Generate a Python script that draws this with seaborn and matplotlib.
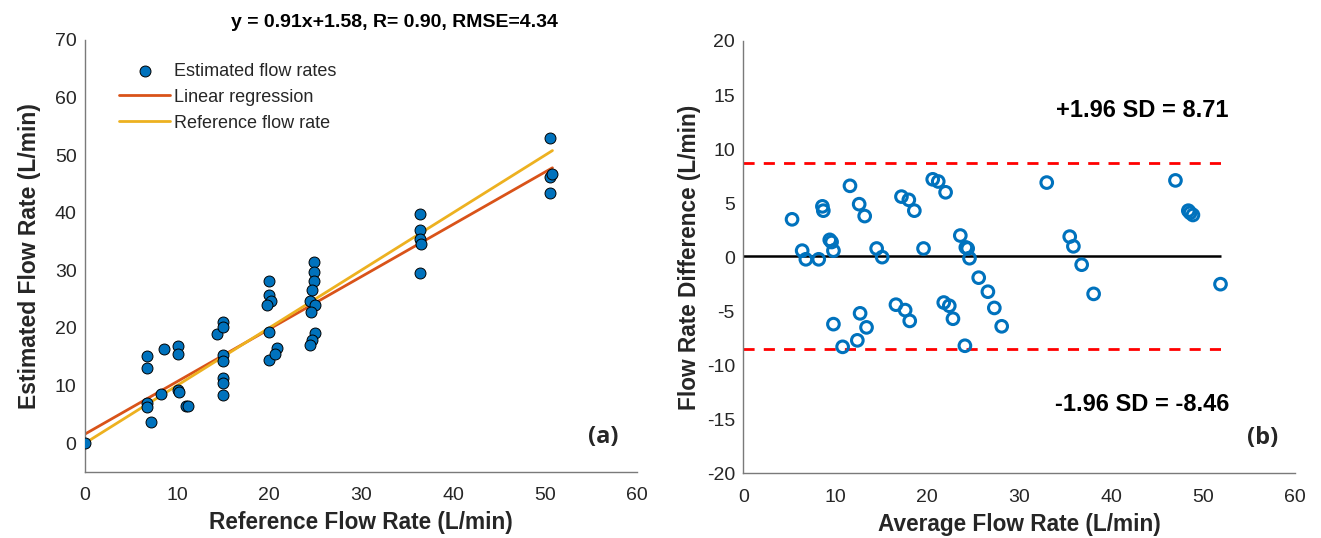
import numpy as np
import pandas as pd
import matplotlib
matplotlib.use("Agg")
import matplotlib.pyplot as plt
import seaborn as sns

# (a) reference vs estimated flow rate (L/min)
ref_flow = [0, 6.7, 6.7, 6.7, 6.7, 7.2, 8.3, 8.6,
            10.1, 10.1, 10.1, 10.2, 11.0, 11.2,
            14.4, 15.0, 15.0, 15.0, 15.0, 15.0, 15.0, 15.0,
            20.0, 20.0, 20.2, 19.8, 20.0, 20.0, 20.9, 20.7,
            24.9, 24.9, 24.9, 24.7, 24.5, 25.0, 24.6, 25.0, 24.7, 24.5,
            36.4, 36.4, 36.4, 36.5, 36.4,
            50.5, 50.5, 50.8, 50.5]
est_flow = [0, 15.1, 13.1, 7.0, 6.2, 3.6, 8.5, 16.3,
            16.8, 15.4, 9.2, 8.9, 6.5, 6.4,
            18.9, 21.0, 20.1, 15.3, 14.3, 11.4, 10.4, 8.4,
            28.2, 25.7, 24.6, 24.0, 19.3, 14.4, 16.6, 15.4,
            31.4, 29.7, 28.2, 26.6, 24.7, 24.0, 22.7, 19.2, 17.9, 17.1,
            39.8, 37.0, 35.4, 34.6, 29.6,
            53.0, 46.2, 46.8, 43.5]
slope, intercept = 0.91, 1.58
title_a = "y = 0.91x+1.58, R= 0.90, RMSE=4.34"

# (b) Bland-Altman
avg_flow = [5.3, 6.4, 6.8, 8.2, 8.6, 8.7, 9.4, 9.6, 9.8, 9.8, 10.8, 11.6,
            12.6, 13.2, 12.7, 12.4, 13.4, 14.5, 15.1, 16.6, 17.2, 17.6, 18.0,
            18.1, 18.6, 19.6, 20.6, 21.2, 22.0, 21.8, 22.4, 22.8, 23.6, 24.2,
            24.4, 24.6, 24.1, 25.6, 26.6, 27.3, 28.1,
            33.0, 35.5, 35.9, 36.8, 38.1, 47.0, 48.4, 48.6, 48.9, 51.9]
diff_flow = [3.5, 0.6, -0.2, -0.2, 4.7, 4.3, 1.6, 1.4, 0.6, -6.2, -8.3, 6.6,
             4.9, 3.8, -5.2, -7.7, -6.5, 0.8, 0.0, -4.4, 5.6, -4.9, 5.3,
             -5.9, 4.3, 0.8, 7.2, 7.0, 6.0, -4.2, -4.5, -5.7, 2.0, 0.9,
             0.8, -0.1, -8.2, -1.9, -3.2, -4.7, -6.4,
             6.9, 1.9, 1.0, -0.7, -3.4, 7.1, 4.3, 4.1, 3.9, -2.5]
upper_loa, lower_loa = 8.71, -8.46

blue = "#0072BD"
red = "#D95319"
yellow = "#EDB120"
axis_col = "#7a7a7a"
txt_col = "#262626"

sns.set_theme(style="white")
plt.rcParams["font.family"] = ["Liberation Sans", "DejaVu Sans"]
plt.rcParams["axes.unicode_minus"] = False

fig = plt.figure(figsize=(13.21, 5.38), dpi=100)
ax1 = fig.add_axes([0.0643, 0.1227, 0.418, 0.803])
ax2 = fig.add_axes([0.5627, 0.1203, 0.4176, 0.8035])

# ----- panel (a)
df_a = pd.DataFrame({"ref": ref_flow, "est": est_flow})
sns.scatterplot(data=df_a, x="ref", y="est", ax=ax1, color=blue, edgecolor="black",
                linewidth=0.7, s=62, label="Estimated flow rates", zorder=3)
xs = np.array([0, max(ref_flow)])
sns.lineplot(x=xs, y=slope * xs + intercept, ax=ax1, color=red, linewidth=2,
             label="Linear regression", zorder=2)
sns.lineplot(x=xs, y=xs, ax=ax1, color=yellow, linewidth=2,
             label="Reference flow rate", zorder=2)
ax1.set_xlim(0, 60)
ax1.set_ylim(-5, 70)
ax1.set_xticks(range(0, 61, 10))
ax1.set_yticks(range(0, 71, 10))
ax1.set_xlabel("Reference Flow Rate (L/min)", fontsize=16.3, fontweight="bold",
               color=txt_col, labelpad=5)
ax1.set_ylabel("Estimated Flow Rate (L/min)", fontsize=16.5, fontweight="bold",
               color=txt_col, labelpad=10)
ax1.text(0.56, 1.04, title_a, transform=ax1.transAxes, ha="center", va="center",
         fontsize=14, fontweight="bold", color="black")
ax1.text(56.3, 1.1, "(a)", fontsize=17, fontweight="bold", ha="center", va="center",
         family=["Open Sans", "DejaVu Sans"])
leg = ax1.legend(loc="upper left", bbox_to_anchor=(0.033, 0.985), frameon=False, fontsize=13,
                 handlelength=2.8, labelspacing=0.5, handletextpad=0.25)

# ----- panel (b)
df_b = pd.DataFrame({"avg": avg_flow, "diff": diff_flow})
sns.scatterplot(data=df_b, x="avg", y="diff", ax=ax2, marker="o", s=70,
                facecolor="none", edgecolor=blue, linewidth=2.2, zorder=3)
xmax = max(avg_flow)
mean_diff = (upper_loa + lower_loa) / 2
ax2.hlines(mean_diff, 0, xmax, color="black", linewidth=1.8, zorder=2)
ax2.hlines([upper_loa, lower_loa], 0, xmax, color="red", linewidth=2,
           linestyles=(0, (4, 3.3)), zorder=2)
ax2.set_xlim(0, 60)
ax2.set_ylim(-20, 20)
ax2.set_xticks(range(0, 61, 10))
ax2.set_yticks(range(-20, 21, 5))
ax2.set_xlabel("Average Flow Rate (L/min)", fontsize=16.3, fontweight="bold",
               color=txt_col, labelpad=5)
ax2.set_ylabel("Flow Rate Difference (L/min)", fontsize=16.3, fontweight="bold",
               color=txt_col, labelpad=4)
ax2.text(43.4, 13.6, "+1.96 SD = {:.2f}".format(upper_loa), fontsize=17, fontweight="bold",
         ha="center", va="center", color="black")
ax2.text(43.4, -13.6, "-1.96 SD = {:.2f}".format(lower_loa), fontsize=17, fontweight="bold",
         ha="center", va="center", color="black")
ax2.text(56.5, -16.7, "(b)", fontsize=17, fontweight="bold", ha="center", va="center",
         family=["Open Sans", "DejaVu Sans"])

for ax in (ax1, ax2):
    sns.despine(ax=ax)
    for sp in ("left", "bottom"):
        ax.spines[sp].set_color(axis_col)
        ax.spines[sp].set_linewidth(1.0)
    ax.tick_params(direction="in", length=5, width=1, colors=axis_col,
                   labelcolor=txt_col, labelsize=14)
    ax.tick_params(axis="x", pad=11)
    ax.tick_params(axis="y", pad=6)

fig.savefig("out.png", dpi=100)
